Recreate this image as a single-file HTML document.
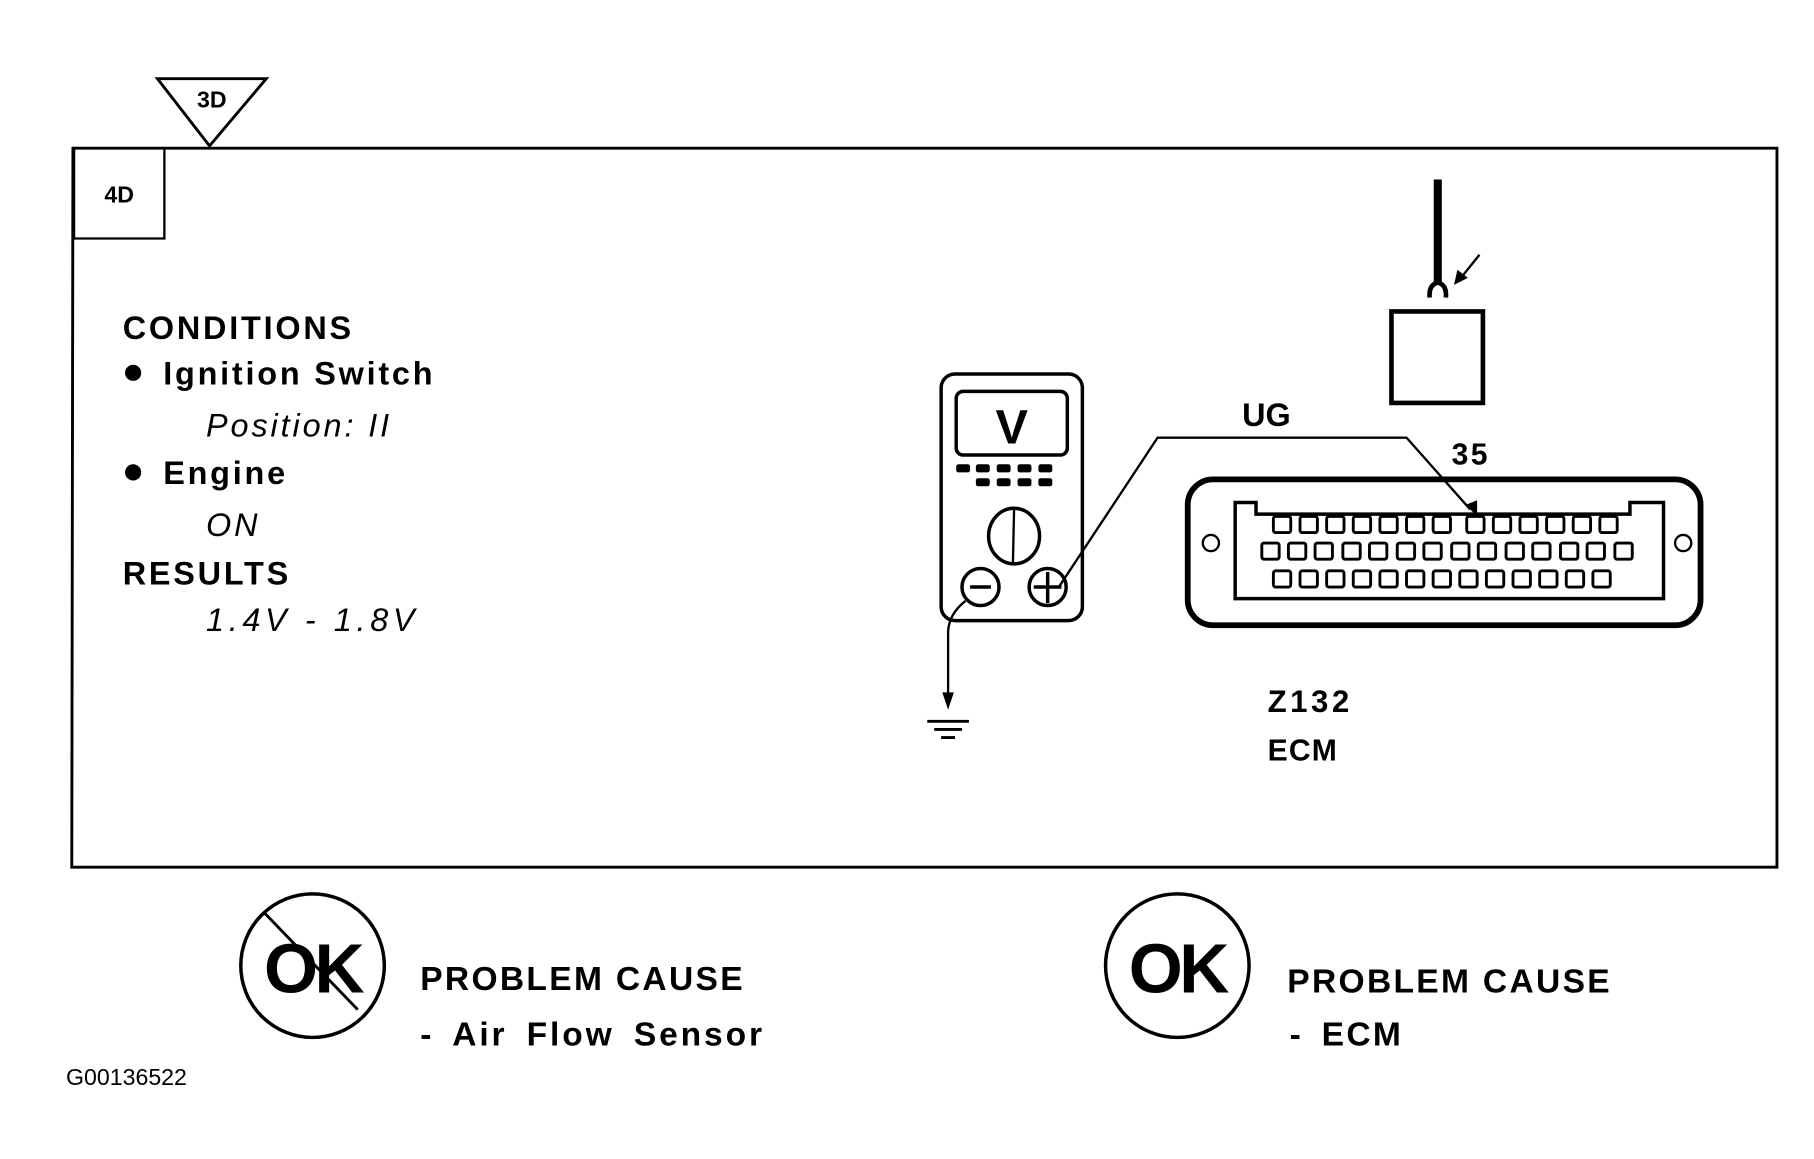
<!DOCTYPE html>
<html><head><style>html,body{margin:0;padding:0;background:#fff}svg{display:block}</style></head>
<body>
<svg width="1814" height="1159" viewBox="0 0 1567 1001" preserveAspectRatio="none" xmlns="http://www.w3.org/2000/svg" font-family="Liberation Sans, sans-serif">
<rect width="1567" height="1001" fill="#fff"/>
<g fill="none" stroke="#000">
<polygon points="136,68 230,68 181,126" stroke-width="2.5"/>
<path d="M63,128 H1535 V749 H62 Z" stroke-width="2.5"/>
<path d="M64,128 V206 H142 V128" stroke-width="2"/>
</g>
<text x="183" y="93" font-size="20" font-weight="bold" text-anchor="middle">3D</text>
<text x="103" y="175" font-size="20" font-weight="bold" text-anchor="middle">4D</text>
<g font-size="28" font-weight="bold" letter-spacing="2.4">
<text x="106" y="293">CONDITIONS</text>
<circle cx="115" cy="322" r="7"/>
<text x="141" y="332">Ignition Switch</text>
<circle cx="115" cy="408" r="7"/>
<text x="141" y="418">Engine</text>
<text x="106" y="505">RESULTS</text>
</g>
<g font-size="28" font-style="italic" letter-spacing="2.5">
<text x="178" y="377">Position:  II</text>
<text x="178" y="463">ON</text>
<text x="178" y="545" letter-spacing="4">1.4V  -  1.8V</text>
</g>
<!-- multimeter -->
<g fill="none" stroke="#000" stroke-width="3">
<rect x="813" y="323" width="122" height="213" rx="12"/>
<rect x="826" y="338" width="96" height="55" rx="6"/>
<ellipse cx="876" cy="463" rx="22" ry="24"/>
<line x1="876" y1="440" x2="875" y2="486" stroke-width="2"/>
<circle cx="847" cy="507" r="16"/>
<line x1="838" y1="507" x2="856" y2="507"/>
<circle cx="905" cy="507" r="16"/>
<line x1="893" y1="507" x2="917" y2="507"/>
<line x1="905" y1="494" x2="905" y2="521"/>
</g>
<text x="874" y="383" font-size="42" font-weight="bold" text-anchor="middle">V</text>
<g fill="#000">
<rect x="826" y="401" width="12" height="7" rx="2"/><rect x="843" y="401" width="12" height="7" rx="2"/><rect x="861" y="401" width="12" height="7" rx="2"/><rect x="879" y="401" width="12" height="7" rx="2"/><rect x="897" y="401" width="12" height="7" rx="2"/>
<rect x="843" y="413" width="12" height="7" rx="2"/><rect x="861" y="413" width="12" height="7" rx="2"/><rect x="879" y="413" width="12" height="7" rx="2"/><rect x="897" y="413" width="12" height="7" rx="2"/>
</g>
<!-- wires -->
<g fill="none" stroke="#000" stroke-width="2">
<path d="M914,508 L1000,378 H1215 L1270,440"/>
<path d="M834,519 Q820,530 819,545 V600"/>
<line x1="801" y1="623" x2="837" y2="623" stroke-width="2.5"/>
<line x1="807" y1="630" x2="831" y2="630" stroke-width="2.5"/>
<line x1="813" y1="637" x2="825" y2="637" stroke-width="2.5"/>
</g>
<polygon points="814,598 824,598 819,613" fill="#000"/>
<polygon points="1266,436 1276,432 1276,446" fill="#000"/>
<text x="1073" y="368" font-size="28" font-weight="bold">UG</text>
<text x="1254" y="401" font-size="26" font-weight="bold" letter-spacing="2">35</text>
<!-- probe -->
<line x1="1242" y1="155" x2="1242" y2="245" stroke="#000" stroke-width="7"/>
<path d="M1235,257 Q1234,246 1242,244 Q1250,246 1249,257" fill="none" stroke="#000" stroke-width="4"/>
<rect x="1202" y="269" width="79" height="79" fill="none" stroke="#000" stroke-width="4"/>
<line x1="1278" y1="220" x2="1262" y2="240" stroke="#000" stroke-width="2"/>
<polygon points="1256,246 1259,233 1268,240" fill="#000"/>
<!-- connector -->
<g fill="none" stroke="#000">
<rect x="1026" y="414" width="443" height="126" rx="22" stroke-width="5"/>
<path d="M1067,434 H1085 V444 H1408 V434 H1437 V517 H1067 Z" stroke-width="3"/>
<circle cx="1046" cy="469" r="7" stroke-width="2"/>
<circle cx="1454" cy="469" r="7" stroke-width="2"/>
</g>
<g fill="none" stroke="#000" stroke-width="2.5">
<rect x="1100" y="446" width="15" height="14" rx="2"/><rect x="1123" y="446" width="15" height="14" rx="2"/><rect x="1146" y="446" width="15" height="14" rx="2"/><rect x="1169" y="446" width="15" height="14" rx="2"/><rect x="1192" y="446" width="15" height="14" rx="2"/><rect x="1215" y="446" width="15" height="14" rx="2"/><rect x="1238" y="446" width="15" height="14" rx="2"/><rect x="1267" y="446" width="15" height="14" rx="2"/><rect x="1290" y="446" width="15" height="14" rx="2"/><rect x="1313" y="446" width="15" height="14" rx="2"/><rect x="1336" y="446" width="15" height="14" rx="2"/><rect x="1359" y="446" width="15" height="14" rx="2"/><rect x="1382" y="446" width="15" height="14" rx="2"/>
<rect x="1090" y="469" width="15" height="14" rx="2"/><rect x="1113" y="469" width="15" height="14" rx="2"/><rect x="1136" y="469" width="15" height="14" rx="2"/><rect x="1160" y="469" width="15" height="14" rx="2"/><rect x="1183" y="469" width="15" height="14" rx="2"/><rect x="1207" y="469" width="15" height="14" rx="2"/><rect x="1230" y="469" width="15" height="14" rx="2"/><rect x="1254" y="469" width="15" height="14" rx="2"/><rect x="1277" y="469" width="15" height="14" rx="2"/><rect x="1301" y="469" width="15" height="14" rx="2"/><rect x="1324" y="469" width="15" height="14" rx="2"/><rect x="1348" y="469" width="15" height="14" rx="2"/><rect x="1371" y="469" width="15" height="14" rx="2"/><rect x="1395" y="469" width="15" height="14" rx="2"/>
<rect x="1100" y="493" width="15" height="14" rx="2"/><rect x="1123" y="493" width="15" height="14" rx="2"/><rect x="1146" y="493" width="15" height="14" rx="2"/><rect x="1169" y="493" width="15" height="14" rx="2"/><rect x="1192" y="493" width="15" height="14" rx="2"/><rect x="1215" y="493" width="15" height="14" rx="2"/><rect x="1238" y="493" width="15" height="14" rx="2"/><rect x="1261" y="493" width="15" height="14" rx="2"/><rect x="1284" y="493" width="15" height="14" rx="2"/><rect x="1307" y="493" width="15" height="14" rx="2"/><rect x="1330" y="493" width="15" height="14" rx="2"/><rect x="1353" y="493" width="15" height="14" rx="2"/><rect x="1376" y="493" width="15" height="14" rx="2"/>
</g>
<text x="1095" y="615" font-size="27" font-weight="bold" letter-spacing="3">Z132</text>
<text x="1095" y="657" font-size="26" font-weight="bold" letter-spacing="1">ECM</text>
<!-- bottom -->
<g fill="none" stroke="#000" stroke-width="3">
<circle cx="270" cy="834" r="62"/>
<line x1="228" y1="788" x2="309" y2="872" stroke-width="2.5"/>
<circle cx="1017" cy="834" r="62"/>
</g>
<text x="270" y="857" font-size="60" font-weight="bold" text-anchor="middle" letter-spacing="-3">OK</text>
<text x="1017" y="857" font-size="60" font-weight="bold" text-anchor="middle" letter-spacing="-3">OK</text>
<g font-size="29" font-weight="bold" letter-spacing="2">
<text x="363" y="855">PROBLEM CAUSE</text>
<text x="363" y="903" letter-spacing="2.5" word-spacing="6">-  Air Flow Sensor</text>
<text x="1112" y="857">PROBLEM CAUSE</text>
<text x="1114" y="903" word-spacing="6">-  ECM</text>
</g>
<text x="57" y="937" font-size="20">G00136522</text>
</svg>
</body></html>
